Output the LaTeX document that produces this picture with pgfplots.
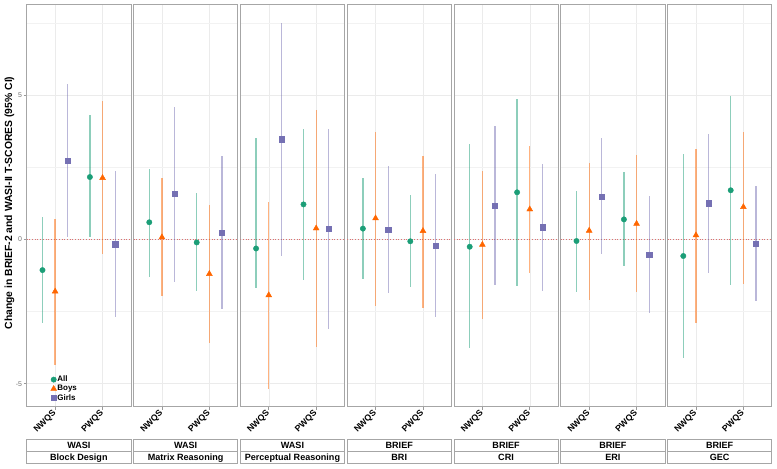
\documentclass[border=0pt]{standalone}
\usepackage{pgfplots}
\pgfplotsset{compat=1.18}
\usepackage{pgfplotstable}
\usepackage{fontspec}
\setmainfont{Liberation Sans}
\definecolor{cAll}{HTML}{1B9E77}
\definecolor{cBoys}{HTML}{FF6600}
\definecolor{cGirls}{HTML}{7570B3}
\definecolor{zeroline}{HTML}{DD7070}

% global x = 3*panel + category (1 = NWQS, 2 = PWQS)
\pgfplotstableread{
x y lo hi
1 -1.06 -2.91 0.79
2 2.17 0.10 4.31
4 0.60 -1.29 2.45
5 -0.10 -1.78 1.60
7 -0.31 -1.67 3.51
8 1.22 -1.41 3.84
10 0.38 -1.38 2.12
11 -0.06 -1.66 1.55
13 -0.25 -3.78 3.30
14 1.64 -1.60 4.88
16 -0.05 -1.81 1.68
17 0.70 -0.91 2.33
19 -0.57 -4.10 2.97
20 1.71 -1.57 4.98
}\tAll
\pgfplotstableread{
x y lo hi
1 -1.80 -4.36 0.72
2 2.14 -0.50 4.81
4 0.08 -1.96 2.15
5 -1.19 -3.60 1.20
7 -1.93 -5.20 1.29
8 0.39 -3.72 4.50
10 0.74 -2.31 3.74
11 0.30 -2.37 2.91
13 -0.18 -2.77 2.38
14 1.05 -1.15 3.25
16 0.31 -2.08 2.67
17 0.55 -1.83 2.92
19 0.15 -2.88 3.15
20 1.13 -1.55 3.74
}\tBoys
\pgfplotstableread{
x y lo hi
1 2.75 0.10 5.40
2 -0.16 -2.68 2.37
4 1.58 -1.46 4.61
5 0.25 -2.41 2.91
7 3.48 -0.56 7.53
8 0.38 -3.10 3.84
10 0.34 -1.87 2.56
11 -0.20 -2.68 2.27
13 1.17 -1.58 3.94
14 0.43 -1.78 2.63
16 1.50 -0.51 3.53
17 -0.53 -2.56 1.52
19 1.26 -1.16 3.66
20 -0.15 -2.14 1.85
}\tGirls

\pgfplotsset{
  panelstyle/.style={
    scale only axis, width=104.3bp, height=402bp,
    ymin=-5.8, ymax=8.15,
    ytick={-5,0,5}, minor ytick={-2.5,2.5,7.5},
    grid=both,
    major grid style={color=black!8, line width=0.5pt},
    minor grid style={color=black!5, line width=0.4pt},
    axis line style={color=black!35, line width=0.8pt},
    tick style={color=black!40, line width=0.6pt},
    tick align=outside, major tick length=3bp, minor tick length=0pt,
    xtick pos=lower, ytick pos=left,
    /pgf/number format/assume math mode=true,
    yticklabel style={font=\fontsize{7}{8}\selectfont, text=black!55, inner sep=1.5bp},
    xticklabel style={rotate=45, anchor=east, font=\bfseries\fontsize{8.7}{9}\selectfont, inner sep=1bp, yshift=-1.5bp, xshift=-1bp},
    legend cell align=left,
  },
  ebar/.style={only marks, color=#1,
    error bars/.cd, y dir=both, y explicit,
    error bar style={color=#1, opacity=0.5, line width=1.3bp},
    error mark=none},
}

\newcommand{\panel}[5]{%
  \pgfmathsetmacro{\xa}{3*#1+1}%
  \pgfmathsetmacro{\xb}{3*#1+2}%
  \pgfmathsetmacro{\xlo}{3*#1+0.4}%
  \pgfmathsetmacro{\xhi}{3*#1+2.6}%
  \pgfmathsetmacro{\xpos}{26.7+#1*106.8}%
  \begin{axis}[panelstyle, name=#2, at={(\xpos bp,62.3bp)}, anchor=south west,
      xmin=\xlo, xmax=\xhi, xtick={\xa,\xb}, xticklabels={NWQS,PWQS}, #5]
    \addplot[color=zeroline, dotted, line width=0.7pt, forget plot] coordinates {(\xlo,0) (\xhi,0)};
    \addplot[mark=*, mark size=2.7bp, ebar=cAll]
      table[x expr=\thisrow{x}-0.267, y=y, y error plus expr=\thisrow{hi}-\thisrow{y}, y error minus expr=\thisrow{y}-\thisrow{lo}] {\tAll};
    \addplot[mark=triangle*, mark size=3.4bp, ebar=cBoys]
      table[x expr=\thisrow{x}, y=y, y error plus expr=\thisrow{hi}-\thisrow{y}, y error minus expr=\thisrow{y}-\thisrow{lo}] {\tBoys};
    \addplot[mark=square*, mark size=2.6bp, ebar=cGirls]
      table[x expr=\thisrow{x}+0.267, y=y, y error plus expr=\thisrow{hi}-\thisrow{y}, y error minus expr=\thisrow{y}-\thisrow{lo}] {\tGirls};
  \end{axis}
  \draw[black!35, fill=white, line width=0.7bp] ([yshift=-32.6bp]#2.south west) rectangle ([yshift=-45bp]#2.south east);
  \draw[black!35, fill=white, line width=0.7bp] ([yshift=-45bp]#2.south west) rectangle ([yshift=-57.1bp]#2.south east);
  \node[font=\bfseries\fontsize{9.1}{9}\selectfont] at ([yshift=-38.8bp]#2.south) {#3};
  \node[font=\bfseries\fontsize{9.1}{9}\selectfont] at ([yshift=-51bp]#2.south) {#4};
}

\begin{document}
\begin{tikzpicture}
\useasboundingbox (0,0) rectangle (777bp,469bp);
\panel{0}{p0}{WASI}{Block Design}{legend entries={All,Boys,Girls},
  legend style={at={(0.2,0.005)}, anchor=south west, draw=none, fill=none,
  font=\bfseries\fontsize{8}{9}\selectfont, row sep=0.5bp, nodes={inner sep=0.8bp}}}
\panel{1}{p1}{WASI}{Matrix Reasoning}{yticklabels={}, ytick style={draw=none}}
\panel{2}{p2}{WASI}{Perceptual Reasoning}{yticklabels={}, ytick style={draw=none}}
\panel{3}{p3}{BRIEF}{BRI}{yticklabels={}, ytick style={draw=none}}
\panel{4}{p4}{BRIEF}{CRI}{yticklabels={}, ytick style={draw=none}}
\panel{5}{p5}{BRIEF}{ERI}{yticklabels={}, ytick style={draw=none}}
\panel{6}{p6}{BRIEF}{GEC}{yticklabels={}, ytick style={draw=none}}
\node[rotate=90, font=\bfseries\fontsize{10.4}{11}\selectfont] at (9.5bp,266bp) {Change in BRIEF-2 and WASI-II T-SCORES (95\% CI)};
\end{tikzpicture}
\end{document}
